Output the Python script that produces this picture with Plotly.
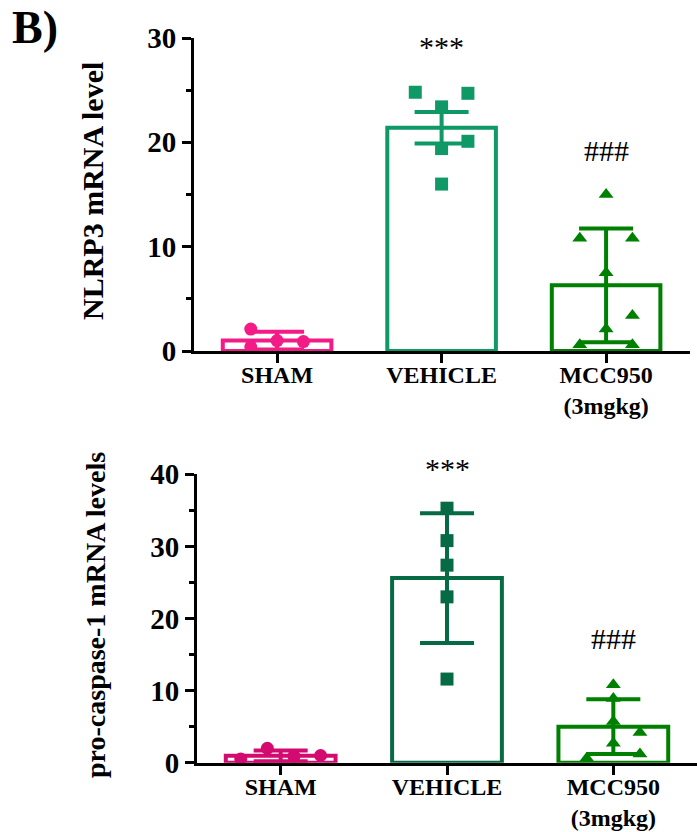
import plotly.graph_objects as go

# ---------------- data ----------------
categories = ["SHAM", "VEHICLE", "MCC950<br>(3mgkg)"]

# Panel 1: NLRP3 mRNA level
nlrp3_sham = [2.1, 0.4, 1.0, 0.9]
nlrp3_vehicle = [24.8, 24.7, 23.4, 20.1, 19.4, 16.0]
nlrp3_mcc = [15.0, 10.8, 10.8, 7.5, 3.4, 2.1, 0.6, 0.6]
nlrp3_mean = [1.0, 21.4, 6.3]
nlrp3_err = [0.85, 1.5, 5.45]

# Panel 2: pro-caspase-1 mRNA levels
casp_sham = [0.5, 2.0, 0.9, 1.0]
casp_vehicle = [35.3, 30.8, 27.4, 23.0, 11.6]
casp_mcc = [10.8, 8.9, 5.7, 4.2, 2.7, 1.2, 0.6]
casp_mean = [0.95, 25.6, 5.0]
casp_err = [0.75, 9.0, 3.8]

# horizontal scatter of the dots (fraction of category spacing)
jit1 = [[-0.16, -0.16, 0.0, 0.16],
        [-0.16, 0.16, 0.0, 0.16, 0.0, 0.0],
        [0.0, -0.16, 0.16, 0.0, 0.16, 0.0, -0.16, 0.16]]
jit2 = [[-0.24, -0.08, 0.08, 0.24],
        [0.0, 0.0, 0.0, 0.0, 0.0],
        [0.0, 0.0, 0.0, 0.16, 0.0, 0.16, -0.16]]

colors1 = ["#F31B86", "#0E9966", "#008000"]
colors2 = ["#D30A6F", "#066B45", "#008000"]
symbols = ["circle", "square", "triangle-up"]
sizes = [13, 13, 13]

W, H = 697, 832
FONT = "Liberation Serif, Times New Roman, serif"

fig = go.Figure()


def add_panel(points, means, errs, jits, colors, xa, ya):
    for i in range(3):
        fig.add_trace(go.Bar(
            x=[i], y=[means[i]], width=0.66,
            marker=dict(color="rgba(255,255,255,0)", line=dict(color=colors[i], width=4)),
            error_y=dict(type="data", array=[errs[i]], visible=True,
                         color=colors[i], thickness=4, width=27),
            xaxis=xa, yaxis=ya, showlegend=False, hoverinfo="skip"))
    for i in range(3):
        fig.add_trace(go.Scatter(
            x=[i + j for j in jits[i]], y=points[i], mode="markers",
            marker=dict(symbol=symbols[i], size=sizes[i], color=colors[i],
                        line=dict(width=0)),
            cliponaxis=False, xaxis=xa, yaxis=ya, showlegend=False))


add_panel([nlrp3_sham, nlrp3_vehicle, nlrp3_mcc], nlrp3_mean, nlrp3_err, jit1,
          colors1, "x", "y")
add_panel([casp_sham, casp_vehicle, casp_mcc], casp_mean, casp_err, jit2,
          colors2, "x2", "y2")

tickfont = dict(family=FONT, size=29, color="black", weight="bold")
xtickfont = dict(family=FONT, size=24, color="black", weight="bold")

xcommon = dict(tickmode="array", tickvals=[0, 1, 2], ticktext=categories,
               ticks="outside", ticklen=9, tickwidth=3, tickcolor="black",
               showline=True, linewidth=3, linecolor="black", automargin=False,
               ticklabelstandoff=-9,
               showgrid=False, zeroline=False, tickfont=xtickfont, fixedrange=True)
ycommon = dict(ticks="outside", ticklen=9, tickwidth=3, tickcolor="black",
               showline=True, linewidth=3, linecolor="black", automargin=False,
               showgrid=False, zeroline=False, tickfont=tickfont,
               minor=dict(dtick=5, ticklen=5, tickwidth=3, tickcolor="black",
                          ticks="outside", showgrid=False),
               dtick=10, fixedrange=True)

fig.update_layout(
    width=W, height=H,
    margin=dict(l=0, r=0, t=0, b=0, autoexpand=False),
    paper_bgcolor="white", plot_bgcolor="white",
    barmode="overlay",
    xaxis=dict(domain=[194 / W, 690 / W], range=[-0.505, 2.51], anchor="y", **xcommon),
    yaxis=dict(domain=[1 - 351 / H, 1 - 38 / H], range=[0, 30], anchor="x", **ycommon),
    xaxis2=dict(domain=[197 / W, 1.0], range=[-0.503, 2.503], anchor="y2", **xcommon),
    yaxis2=dict(domain=[1 - 762.7 / H, 1 - 474.3 / H], range=[0, 40], anchor="x2", **ycommon),
)

sig_font = dict(family=FONT, size=30, color="black")

fig.add_annotation(text="<b>B)</b>", xref="paper", yref="paper",
                   x=10 / W, y=1 - 28 / H, xanchor="left", yanchor="middle",
                   showarrow=False, font=dict(family=FONT, size=46, color="black"))
fig.add_annotation(text="NLRP3 mRNA level", xref="paper", yref="paper",
                   x=92 / W, y=1 - 191 / H, xanchor="center", yanchor="middle",
                   textangle=-90, showarrow=False,
                   font=dict(family=FONT, size=30, color="black", weight="bold"))
fig.add_annotation(text="pro-caspase-1 mRNA levels", xref="paper", yref="paper",
                   x=95 / W, y=1 - 615 / H, xanchor="center", yanchor="middle",
                   textangle=-90, showarrow=False,
                   font=dict(family=FONT, size=28, color="black", weight="bold"))

fig.add_annotation(text="***", xref="x", yref="paper", x=1, y=1 - 46 / H,
                   xanchor="center", yanchor="middle", showarrow=False, font=sig_font)
fig.add_annotation(text="###", xref="x", yref="paper", x=2, y=1 - 151 / H,
                   xanchor="center", yanchor="middle", showarrow=False, font=sig_font)
fig.add_annotation(text="***", xref="x2", yref="paper", x=1, y=1 - 468 / H,
                   xanchor="center", yanchor="middle", showarrow=False, font=sig_font)
fig.add_annotation(text="###", xref="x2", yref="paper", x=2, y=1 - 638 / H,
                   xanchor="center", yanchor="middle", showarrow=False, font=sig_font)

fig.write_html("out.html", config={"displayModeBar": False},
               post_script="document.body.style.margin='0';"
               "document.body.style.padding='0';")
